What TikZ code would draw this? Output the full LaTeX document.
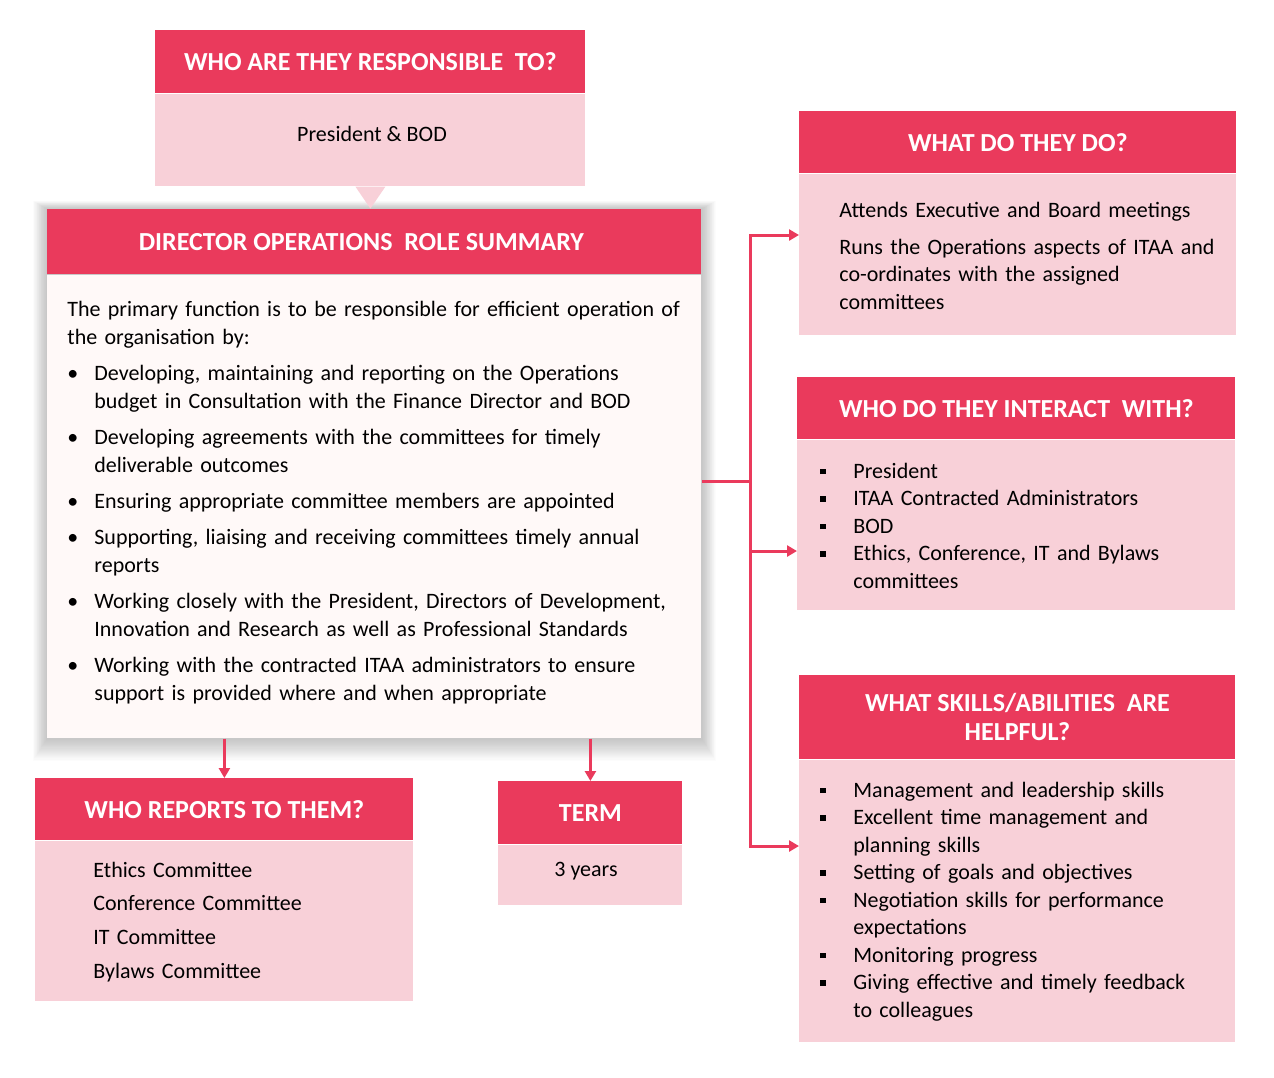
\documentclass[tikz,border=0pt]{standalone}
\usepackage{fontspec}
\setmainfont{Carlito}
\usetikzlibrary{positioning,calc,arrows.meta,backgrounds}

\definecolor{opsred}{HTML}{EA3A5C}
\definecolor{opspink}{HTML}{F8D0D8}
\definecolor{opspaper}{HTML}{FFF9F8}

\newcommand\opsbullet{\hangindent=13.5pt\hangafter=1\noindent\makebox[13.5pt][l]{\textbullet}}
\newcommand\opssquare{\hangindent=16.5pt\hangafter=1\noindent\makebox[16.5pt][l]{\rule[2pt]{2.6pt}{2.6pt}}}

\tikzset{
  hdr/.style={fill=opsred, text=white, font=\bfseries\fontsize{13}{14.5}\selectfont, align=center, inner sep=0pt, anchor=north west},
  panel/.style={fill=opspink, inner sep=0pt},
  txt/.style={anchor=base west, inner sep=0pt, text width=#1, font=\fontsize{11}{13.75}\selectfont, execute at begin node=\raggedright},
  link/.style={draw=opsred, line width=1.5pt, -{Triangle[length=5pt,width=5.5pt]}},
}

\begin{document}
\begin{tikzpicture}[x=0.5pt, y=-0.5pt]
\useasboundingbox (0,0) rectangle (1274,1077);

% responsible to
\node[hdr, minimum width=215pt, minimum height=31.5pt] (resphdr) at (155,30) {WHO ARE THEY RESPONSIBLE\ \ TO?};
\node[panel, minimum width=215pt, minimum height=46pt, below=0pt of resphdr] (respbody) {};
\node[anchor=base, inner sep=0pt, font=\fontsize{11}{14}\selectfont] (resptxt) at (372,141) {President \& BOD};

% role summary
\node[hdr, minimum width=327pt, minimum height=32.5pt] (mainhdr) at (47,209) {DIRECTOR OPERATIONS\ \ ROLE SUMMARY\hspace*{13pt}};
\node[fill=opspaper, inner sep=0pt, minimum width=327pt, minimum height=231.5pt, below=0pt of mainhdr] (mainbody) {};
\node[txt=318pt, font=\fontsize{11}{14}\selectfont] (maintxt) at (67,316) {\parskip=4pt
The primary function is to be responsible for efficient operation of\newline the organisation by:\par
\opsbullet Developing, maintaining and reporting on the Operations\newline budget in Consultation with the Finance Director and BOD\par
\opsbullet Developing agreements with the committees for timely\newline deliverable outcomes\par
\opsbullet Ensuring appropriate committee members are appointed\par
\opsbullet Supporting, liaising and receiving committees timely annual\newline reports\par
\opsbullet Working closely with the President, Directors of Development,\newline Innovation and Research as well as Professional Standards\par
\opsbullet Working with the contracted ITAA administrators to ensure\newline support is provided where and when appropriate\par};

\begin{scope}[on background layer]
\foreach \s in {1,...,20}
  \fill[black, opacity=0.012] ($(mainhdr.north west)+(-0.7*\s,-0.4*\s)$) rectangle ($(mainbody.south east)+(0.7*\s,1.1*\s)$);
\end{scope}
\fill[opspink] ($(respbody.south)+(-15,0)$) -- ($(respbody.south)+(15,0)$) -- ($(respbody.south)+(0,22)$) -- cycle;

% what do they do
\node[hdr, minimum width=218.5pt, minimum height=31pt] (dohdr) at (799,111) {WHAT DO THEY DO?};
\node[panel, minimum width=218.5pt, minimum height=80.5pt, below=0pt of dohdr] (dobody) {};
\node[txt=195pt] (dotxt) at (839,217) {\parskip=4.75pt
Attends Executive and Board meetings\par
Runs the Operations aspects of ITAA and\newline co-ordinates with the assigned\newline committees\par};

% interact with
\node[hdr, minimum width=219pt, minimum height=31pt] (inthdr) at (797,377) {WHO DO THEY INTERACT\ \ WITH?};
\node[panel, minimum width=219pt, minimum height=85pt, below=0pt of inthdr] (intbody) {};
\node[txt=200pt] (inttxt) at (820,478) {
\opssquare President\par
\opssquare ITAA Contracted Administrators\par
\opssquare BOD\par
\opssquare Ethics, Conference, IT and Bylaws\newline committees\par};

% skills
\node[hdr, minimum width=218pt, minimum height=42pt] (skillhdr) at (799,675) {WHAT SKILLS/ABILITIES\ \ ARE\\HELPFUL?};
\node[panel, minimum width=218pt, minimum height=141pt, below=0pt of skillhdr] (skillbody) {};
\node[txt=200pt] (skilltxt) at (820,797) {
\opssquare Management and leadership skills\par
\opssquare Excellent time management and\newline planning skills\par
\opssquare Setting of goals and objectives\par
\opssquare Negotiation skills for performance\newline expectations\par
\opssquare Monitoring progress\par
\opssquare Giving effective and timely feedback\newline to colleagues\par};

% reports to them
\node[hdr, minimum width=189pt, minimum height=31pt] (rpthdr) at (35,778) {WHO REPORTS TO THEM?};
\node[panel, minimum width=189pt, minimum height=80pt, below=0pt of rpthdr] (rptbody) {};
\node[txt=150pt, font=\fontsize{11}{16.85}\selectfont] (rpttxt) at (93,877) {
Ethics Committee\par Conference Committee\par IT Committee\par Bylaws Committee\par};

% term
\node[hdr, minimum width=92pt, minimum height=31.5pt] (termhdr) at (498,781) {TERM};
\node[panel, minimum width=92pt, minimum height=30pt, below=0pt of termhdr] (termbody) {};
\node[anchor=base, inner sep=0pt, font=\fontsize{11}{14}\selectfont] (termtxt) at (586,876) {3 years};

% connectors
\coordinate (junc) at (750,481);
\coordinate (dolvl) at (750,235);
\coordinate (intlvl) at (750,551);
\coordinate (sklvl) at (750,846);
\draw[draw=opsred, line width=1.5pt] (mainbody.east |- junc) -- (junc);
\draw[link] (junc) |- (dobody.west |- dolvl);
\draw[link] (junc) |- (intbody.west |- intlvl);
\draw[link] (junc) |- (skillbody.west |- sklvl);
\draw[link] (rpthdr.north |- mainbody.south) -- (rpthdr.north);
\draw[link] (termhdr.north |- mainbody.south) -- (termhdr.north);
\end{tikzpicture}
\end{document}
